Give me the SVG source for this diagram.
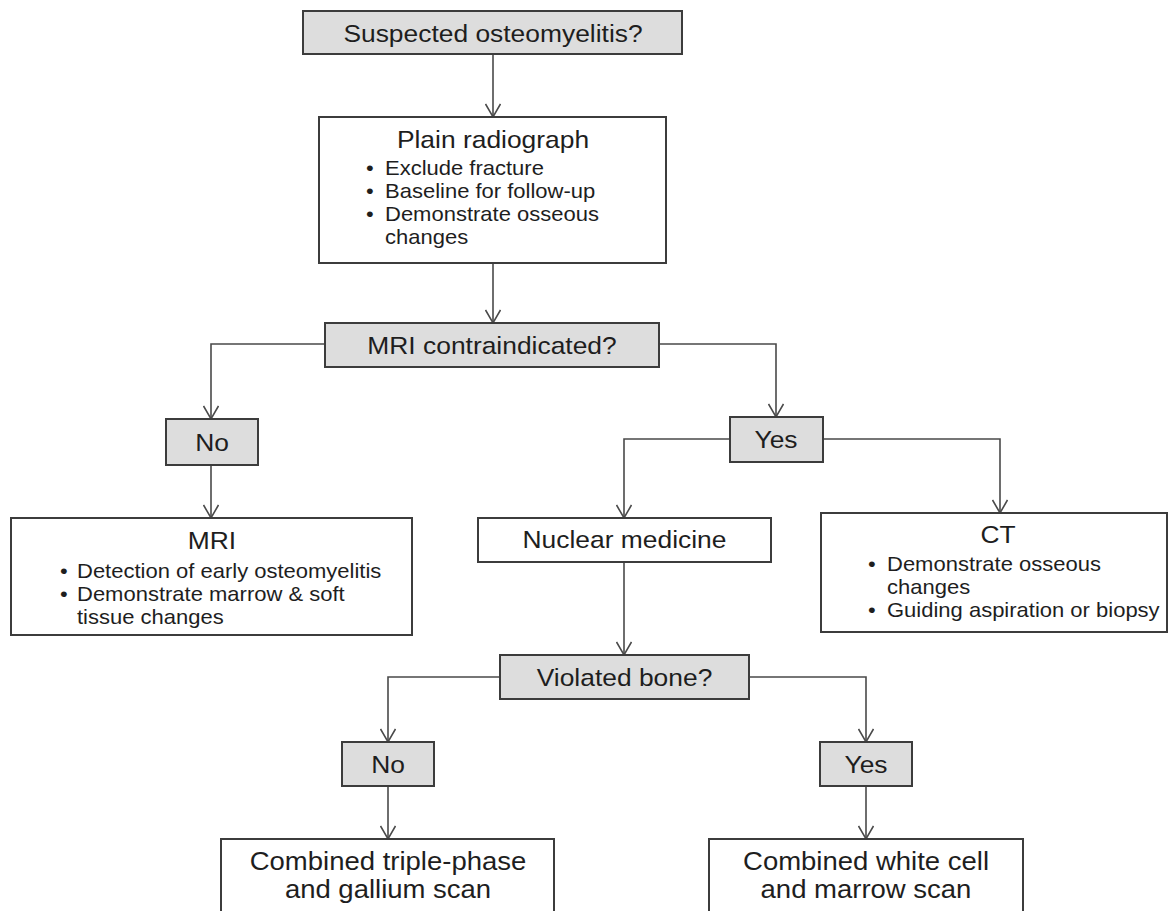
<svg xmlns="http://www.w3.org/2000/svg" width="1171" height="911" viewBox="0 0 1171 911">
<style>
.box{fill:#ffffff;stroke:#3c3c3c;stroke-width:2}
.q{fill:#dddddd;stroke:#3c3c3c;stroke-width:2}
.t{font-family:"Liberation Sans",Arial,Helvetica,sans-serif;fill:#1e1e1e}
.h{font-size:24px;text-anchor:middle}
.hc{font-size:25px;text-anchor:middle}
.b{font-size:20px;text-anchor:start}
.con{fill:none;stroke:#4a4a4a;stroke-width:1.6}
</style>
<defs>
<marker id="arr" markerUnits="userSpaceOnUse" viewBox="0 0 16 16" markerWidth="16" markerHeight="16" refX="14" refY="8" orient="auto">
<path d="M1,0.5 L14,8 L1,15.5" fill="none" stroke="#4a4a4a" stroke-width="1.6"/>
</marker>
</defs>
<rect width="1171" height="911" fill="#ffffff"/>

<g id="connectors">
<path class="con" d="M493,54 V117" marker-end="url(#arr)"/>
<path class="con" d="M493,263 V323" marker-end="url(#arr)"/>
<path class="con" d="M325,344 H211 V419" marker-end="url(#arr)"/>
<path class="con" d="M211,465 V518" marker-end="url(#arr)"/>
<path class="con" d="M659,344 H776 V417" marker-end="url(#arr)"/>
<path class="con" d="M730,439 H624 V518" marker-end="url(#arr)"/>
<path class="con" d="M823,439 H1000 V513" marker-end="url(#arr)"/>
<path class="con" d="M624,562 V655" marker-end="url(#arr)"/>
<path class="con" d="M500,677 H388 V742" marker-end="url(#arr)"/>
<path class="con" d="M388,786 V839" marker-end="url(#arr)"/>
<path class="con" d="M749,677 H866 V742" marker-end="url(#arr)"/>
<path class="con" d="M866,786 V839" marker-end="url(#arr)"/>
</g>

<g id="suspected">
<rect class="q" x="303" y="11" width="379" height="43"/>
<text class="t h" transform="translate(493,42) scale(1.1,1)">Suspected osteomyelitis?</text>
</g>

<g id="plain-radiograph">
<rect class="box" x="319" y="117" width="347" height="146"/>
<text class="t h" transform="translate(493,148) scale(1.1,1)">Plain radiograph</text>
<text class="t b" transform="translate(366,175) scale(1.1,1)">•</text>
<text class="t b" transform="translate(385,175) scale(1.1,1)">Exclude fracture</text>
<text class="t b" transform="translate(366,198) scale(1.1,1)">•</text>
<text class="t b" transform="translate(385,198) scale(1.1,1)">Baseline for follow-up</text>
<text class="t b" transform="translate(366,221) scale(1.1,1)">•</text>
<text class="t b" transform="translate(385,221) scale(1.1,1)">Demonstrate osseous</text>
<text class="t b" transform="translate(385,244) scale(1.1,1)">changes</text>
</g>

<g id="mri-contraindicated">
<rect class="q" x="325" y="323" width="334" height="44"/>
<text class="t h" transform="translate(492,354) scale(1.1,1)">MRI contraindicated?</text>
</g>

<g id="no-1">
<rect class="q" x="166" y="419" width="92" height="46"/>
<text class="t h" transform="translate(212,451) scale(1.1,1)">No</text>
</g>

<g id="yes-1">
<rect class="q" x="730" y="417" width="93" height="45"/>
<text class="t h" transform="translate(776,448) scale(1.1,1)">Yes</text>
</g>

<g id="mri">
<rect class="box" x="11" y="518" width="401" height="117"/>
<text class="t h" transform="translate(212,549) scale(1.1,1)">MRI</text>
<text class="t b" transform="translate(60,578) scale(1.1,1)">•</text>
<text class="t b" transform="translate(77,578) scale(1.1,1)">Detection of early osteomyelitis</text>
<text class="t b" transform="translate(60,601) scale(1.1,1)">•</text>
<text class="t b" transform="translate(77,601) scale(1.1,1)">Demonstrate marrow &amp; soft</text>
<text class="t b" transform="translate(77,624) scale(1.1,1)">tissue changes</text>
</g>

<g id="nuclear-medicine">
<rect class="box" x="478" y="518" width="293" height="44"/>
<text class="t h" transform="translate(624.5,548) scale(1.1,1)">Nuclear medicine</text>
</g>

<g id="ct">
<rect class="box" x="821" y="513" width="346" height="119"/>
<text class="t h" transform="translate(998,543) scale(1.1,1)">CT</text>
<text class="t b" transform="translate(868,571) scale(1.1,1)">•</text>
<text class="t b" transform="translate(887,571) scale(1.1,1)">Demonstrate osseous</text>
<text class="t b" transform="translate(887,594) scale(1.1,1)">changes</text>
<text class="t b" transform="translate(868,617) scale(1.1,1)">•</text>
<text class="t b" transform="translate(887,617) scale(1.1,1)">Guiding aspiration or biopsy</text>
</g>

<g id="violated-bone">
<rect class="q" x="500" y="655" width="249" height="44"/>
<text class="t h" transform="translate(624.5,686) scale(1.1,1)">Violated bone?</text>
</g>

<g id="no-2">
<rect class="q" x="342" y="742" width="92" height="44"/>
<text class="t h" transform="translate(388,773) scale(1.1,1)">No</text>
</g>

<g id="yes-2">
<rect class="q" x="820" y="742" width="92" height="44"/>
<text class="t h" transform="translate(866,773) scale(1.1,1)">Yes</text>
</g>

<g id="triple-phase">
<rect class="box" x="221" y="839" width="333" height="80"/>
<text class="t hc" transform="translate(388,870) scale(1.1,1)">Combined triple-phase</text>
<text class="t hc" transform="translate(388,898) scale(1.1,1)">and gallium scan</text>
</g>

<g id="white-cell">
<rect class="box" x="709" y="839" width="314" height="80"/>
<text class="t hc" transform="translate(866,870) scale(1.1,1)">Combined white cell</text>
<text class="t hc" transform="translate(866,898) scale(1.1,1)">and marrow scan</text>
</g>
</svg>
